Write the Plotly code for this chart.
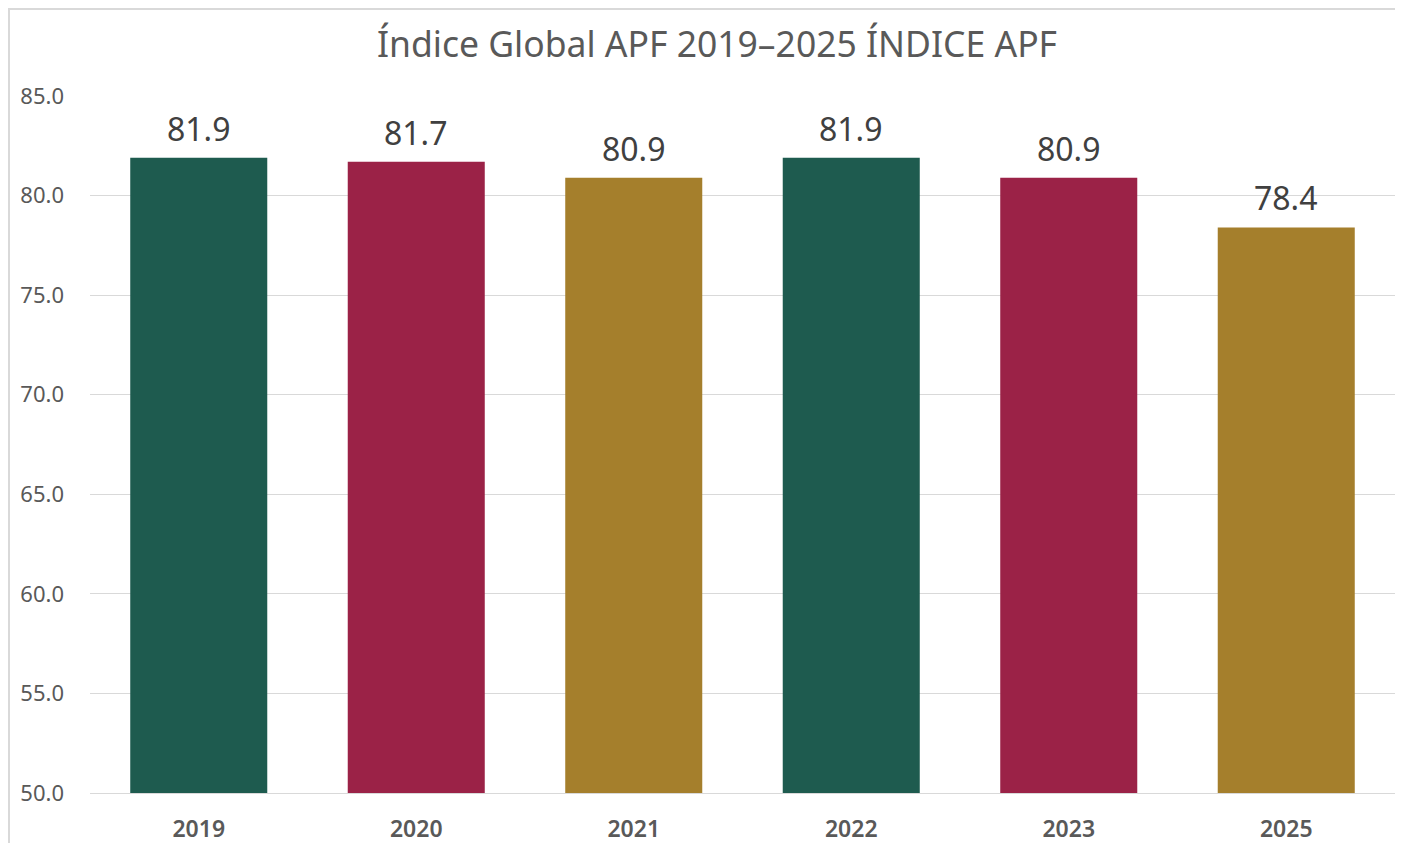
import plotly.graph_objects as go

years = ["2019", "2020", "2021", "2022", "2023", "2025"]
values = [81.9, 81.7, 80.9, 81.9, 80.9, 78.4]
colors = ["#1E5B4F", "#9B2247", "#A57F2C", "#1E5B4F", "#9B2247", "#A57F2C"]
y_ticks = [50, 55, 60, 65, 70, 75, 80, 85]

W, H = 1387, 835

fig = go.Figure()
fig.add_trace(go.Bar(
    x=years, y=values, marker_color=colors, marker_line_width=0,
    width=0.63, hoverinfo="x+y",
))

annotations = [
    dict(x=i, y=v, text=f"{v:.1f}", showarrow=False, xref="x", yref="y",
         yanchor="bottom", yshift=6,
         font=dict(family="Noto Sans", size=32, color="#404040"))
    for i, v in enumerate(values)
]

fig.update_layout(
    width=W, height=H,
    margin=dict(l=82, r=0, t=88, b=50),
    paper_bgcolor="white", plot_bgcolor="white",
    showlegend=False,
    title=dict(text="Índice Global APF 2019–2025 ÍNDICE APF", x=709 / W, xanchor="center",
               y=1 - 37 / H, yanchor="middle",
               font=dict(family="Noto Sans", size=35.5, color="#595959")),
    yaxis=dict(range=[50, 85], tickvals=y_ticks, ticktext=[f"{t:.1f}" for t in y_ticks],
               showgrid=True, gridcolor="#D9D9D9", gridwidth=1, zeroline=False,
               tickfont=dict(family="Noto Sans", size=22, color="#595959"),
               ticks="", ticklabelstandoff=25),
    xaxis=dict(type="category", categoryorder="array", categoryarray=years,
               range=[-0.5, len(years) - 0.5],
               showline=True, linecolor="#D9D9D9", linewidth=1, ticks="",
               tickfont=dict(family="Noto Sans", size=23, color="#595959", weight=600),
               ticklabelstandoff=15),
    annotations=annotations,
    shapes=[dict(type="rect", xref="paper", yref="paper",
                 x0=(1 - 82) / (W - 82), x1=(W + 20 - 82) / (W - 82),
                 y0=-1, y1=(H - 50 - 1) / (H - 88 - 50),
                 line=dict(color="#D9D9D9", width=2), fillcolor="rgba(0,0,0,0)", layer="below")],
)

fig.write_html("out.html")
